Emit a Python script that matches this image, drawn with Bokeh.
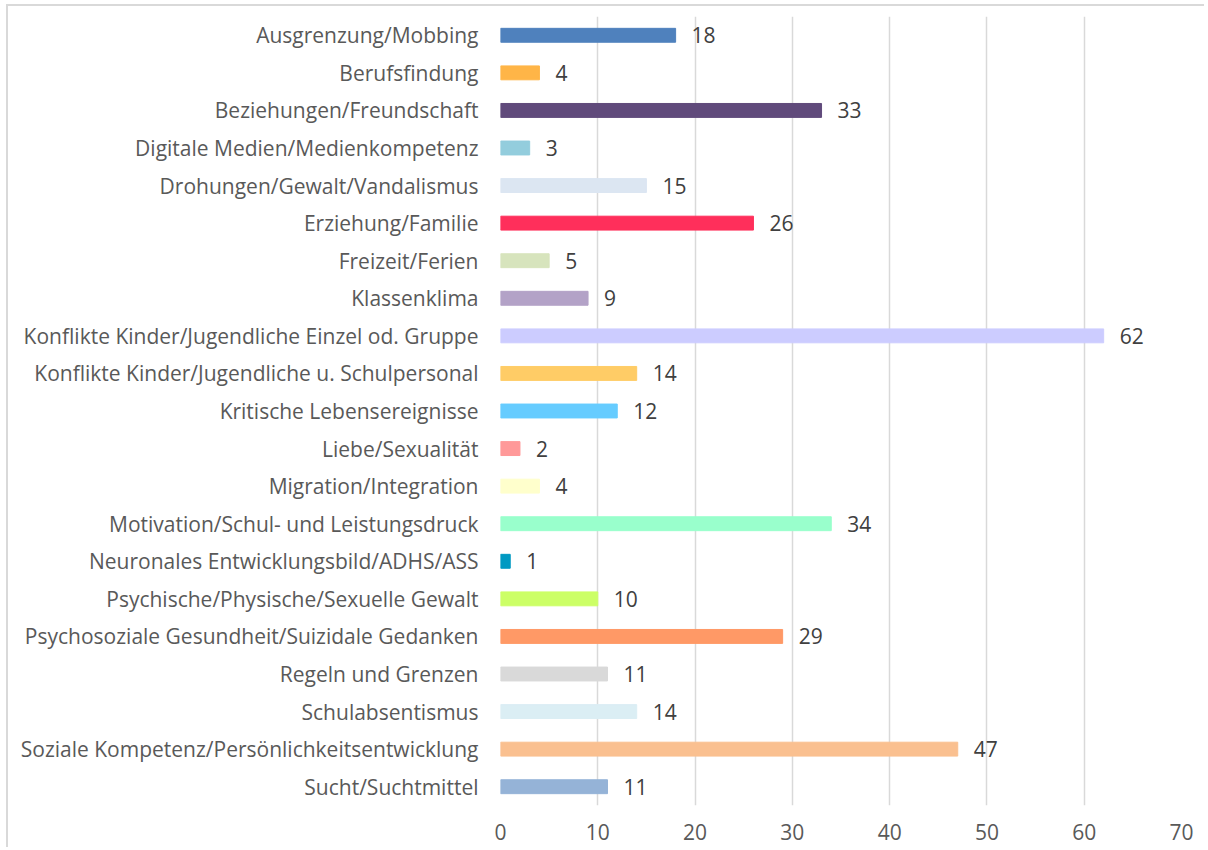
from bokeh.plotting import figure
from bokeh.models import ColumnDataSource, FactorRange, Range1d, LabelSet, FixedTicker
from bokeh.core.properties import value
from bokeh.embed import file_html
from bokeh.resources import INLINE

categories = [
    "Ausgrenzung/Mobbing",
    "Berufsfindung",
    "Beziehungen/Freundschaft",
    "Digitale Medien/Medienkompetenz",
    "Drohungen/Gewalt/Vandalismus",
    "Erziehung/Familie",
    "Freizeit/Ferien",
    "Klassenklima",
    "Konflikte Kinder/Jugendliche Einzel od. Gruppe",
    "Konflikte Kinder/Jugendliche u. Schulpersonal",
    "Kritische Lebensereignisse",
    "Liebe/Sexualität",
    "Migration/Integration",
    "Motivation/Schul- und Leistungsdruck",
    "Neuronales Entwicklungsbild/ADHS/ASS",
    "Psychische/Physische/Sexuelle Gewalt",
    "Psychosoziale Gesundheit/Suizidale Gedanken",
    "Regeln und Grenzen",
    "Schulabsentismus",
    "Soziale Kompetenz/Persönlichkeitsentwicklung",
    "Sucht/Suchtmittel",
]
values = [18, 4, 33, 3, 15, 26, 5, 9, 62, 14, 12, 2, 4, 34, 1, 10, 29, 11, 14, 47, 11]
colors = [
    "#4F81BD", "#FFB547", "#604A7B", "#93CDDD", "#DCE6F2", "#FF2F5B", "#D7E4BD",
    "#B3A2C7", "#CCCCFF", "#FFCC66", "#66CCFF", "#FF9999", "#FFFFCC", "#99FFCC",
    "#0099C2", "#CCFF66", "#FF9966", "#D9D9D9", "#DBEEF4", "#FAC090", "#95B3D7",
]
x_ticks = [0, 10, 20, 30, 40, 50, 60, 70]

FONT = "Open Sans"
FSIZE = "21px"
TEXT_COLOR = "#595959"

source = ColumnDataSource(dict(
    cat=categories,
    val=values,
    color=colors,
    label=[str(v) for v in values],
))

p = figure(
    width=1198, height=843,
    y_range=FactorRange(*reversed(categories)),
    x_range=Range1d(0, 70),
    output_backend="svg",
    toolbar_location=None,
    min_border_left=492, min_border_right=25, min_border_top=10, min_border_bottom=44,
)
p.styles = {"border-left": "2px solid #d9d9d9", "border-top": "2px solid #d9d9d9",
            "margin-left": "6px", "margin-top": "4px"}

p.hbar(y="cat", right="val", left=0, height=0.37, color="color", source=source)

labels = LabelSet(x="val", y="cat", text="label", source=source,
                  x_offset=16, text_align="left", text_baseline="middle",
                  text_font=value(FONT), text_font_size=value(FSIZE), text_color="#404040")
p.add_layout(labels)

p.xaxis.ticker = FixedTicker(ticks=x_ticks)
p.xaxis.axis_line_color = None
p.xaxis.major_tick_line_color = None
p.xaxis.minor_tick_line_color = None
p.xaxis.major_label_standoff = 12
p.xaxis.major_label_text_font = FONT
p.xaxis.major_label_text_font_size = FSIZE
p.xaxis.major_label_text_color = TEXT_COLOR

p.yaxis.axis_line_color = None
p.yaxis.major_tick_line_color = None
p.yaxis.major_label_standoff = 16
p.yaxis.major_label_text_font = FONT
p.yaxis.major_label_text_font_size = FSIZE
p.yaxis.major_label_text_color = TEXT_COLOR

p.xgrid.grid_line_color = "#d9d9d9"
p.xgrid.grid_line_width = 1.5
p.ygrid.grid_line_color = None
p.outline_line_color = None
p.background_fill_color = "white"
p.border_fill_color = "white"

open("out.html", "w").write(file_html(p, INLINE))
